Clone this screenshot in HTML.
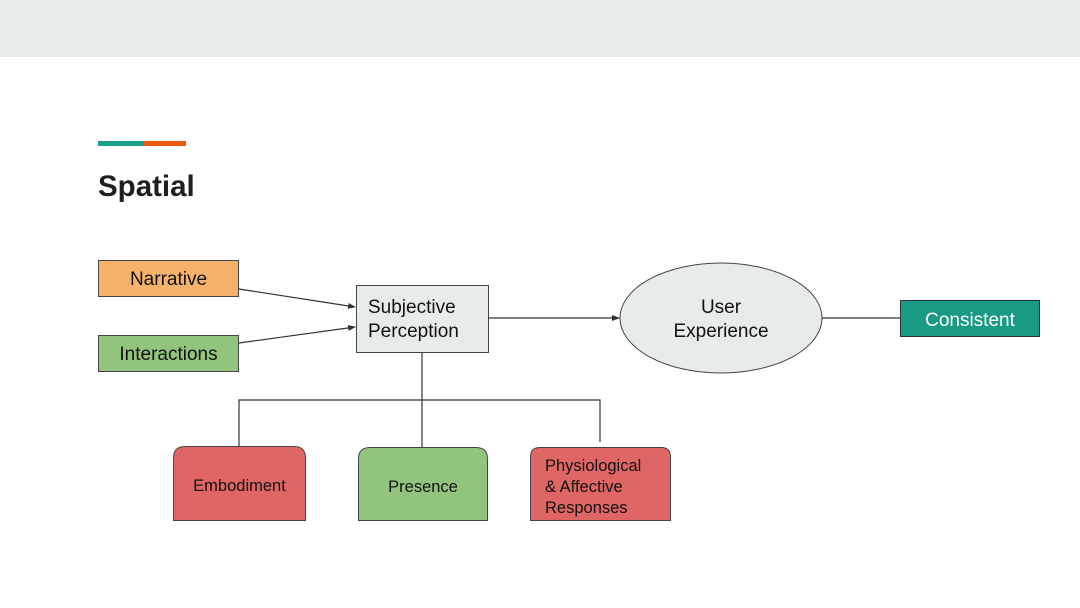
<!DOCTYPE html>
<html><head><meta charset="utf-8"><style>
html,body{margin:0;padding:0;background:#fff;}
svg{display:block;font-family:"Liberation Sans",Arial,sans-serif;}
</style></head><body>
<svg width="1080" height="608" viewBox="0 0 1080 608" xmlns="http://www.w3.org/2000/svg">
<defs>
<marker id="ar" markerWidth="8" markerHeight="6" refX="7" refY="3" orient="auto" markerUnits="userSpaceOnUse">
<path d="M0,0 L8,3 L0,6 z" fill="#333"/>
</marker>
</defs>
<rect x="0" y="0" width="1080" height="57" fill="#e8ebeb"/>
<rect x="98" y="141" width="45" height="5" fill="#1a9e8a"/>
<rect x="143" y="141" width="43" height="5" fill="#ee5a10"/>
<text x="98" y="196" font-size="29.5" font-weight="bold" fill="#1f1f1f">Spatial</text>

<g stroke="#333" stroke-width="1.2" fill="none">
<line x1="239" y1="289" x2="355" y2="307" marker-end="url(#ar)"/>
<line x1="239" y1="343" x2="355" y2="327" marker-end="url(#ar)"/>
<line x1="488" y1="318" x2="619" y2="318" marker-end="url(#ar)"/>
<line x1="822" y1="318" x2="900" y2="318"/>
<line x1="422" y1="352" x2="422" y2="447"/>
<polyline points="239,446 239,400 600,400 600,442"/>
</g>

<rect x="98.5" y="260.5" width="140" height="36" fill="#f6b26b" stroke="#444"/>
<text x="168.5" y="285" font-size="19" text-anchor="middle" fill="#111">Narrative</text>
<rect x="98.5" y="335.5" width="140" height="36" fill="#93c47d" stroke="#444"/>
<text x="168.5" y="360" font-size="19" text-anchor="middle" fill="#111">Interactions</text>

<rect x="356.5" y="285.5" width="132" height="67" fill="#e8ebeb" stroke="#444"/>
<text x="368" y="313" font-size="19" fill="#111">Subjective</text>
<text x="368" y="337" font-size="19" fill="#111">Perception</text>

<ellipse cx="721" cy="318" rx="101" ry="55" fill="#e8ebeb" stroke="#444"/>
<text x="721" y="313" font-size="19" text-anchor="middle" fill="#111">User</text>
<text x="721" y="337" font-size="19" text-anchor="middle" fill="#111">Experience</text>

<rect x="900.5" y="300.5" width="139" height="36" fill="#1a9985" stroke="#333"/>
<text x="970" y="326" font-size="19" text-anchor="middle" fill="#fff">Consistent</text>

<path d="M173.5,520.5 L173.5,458 Q173.5,446.5 185,446.5 L294,446.5 Q305.5,446.5 305.5,458 L305.5,520.5 Z" fill="#e06666" stroke="#444"/>
<text x="239.5" y="491" font-size="16.5" text-anchor="middle" fill="#111">Embodiment</text>

<path d="M358.5,520.5 L358.5,459 Q358.5,447.5 370,447.5 L476,447.5 Q487.5,447.5 487.5,459 L487.5,520.5 Z" fill="#93c47d" stroke="#444"/>
<text x="423" y="492" font-size="16.5" text-anchor="middle" fill="#111">Presence</text>

<path d="M530.5,520.5 L530.5,457 Q530.5,447.5 540,447.5 L661,447.5 Q670.5,447.5 670.5,457 L670.5,520.5 Z" fill="#e06666" stroke="#444"/>
<text x="545" y="471" font-size="16.5" fill="#111">Physiological</text>
<text x="545" y="492" font-size="16.5" fill="#111">&amp; Affective</text>
<text x="545" y="513" font-size="16.5" fill="#111">Responses</text>
</svg>
</body></html>
